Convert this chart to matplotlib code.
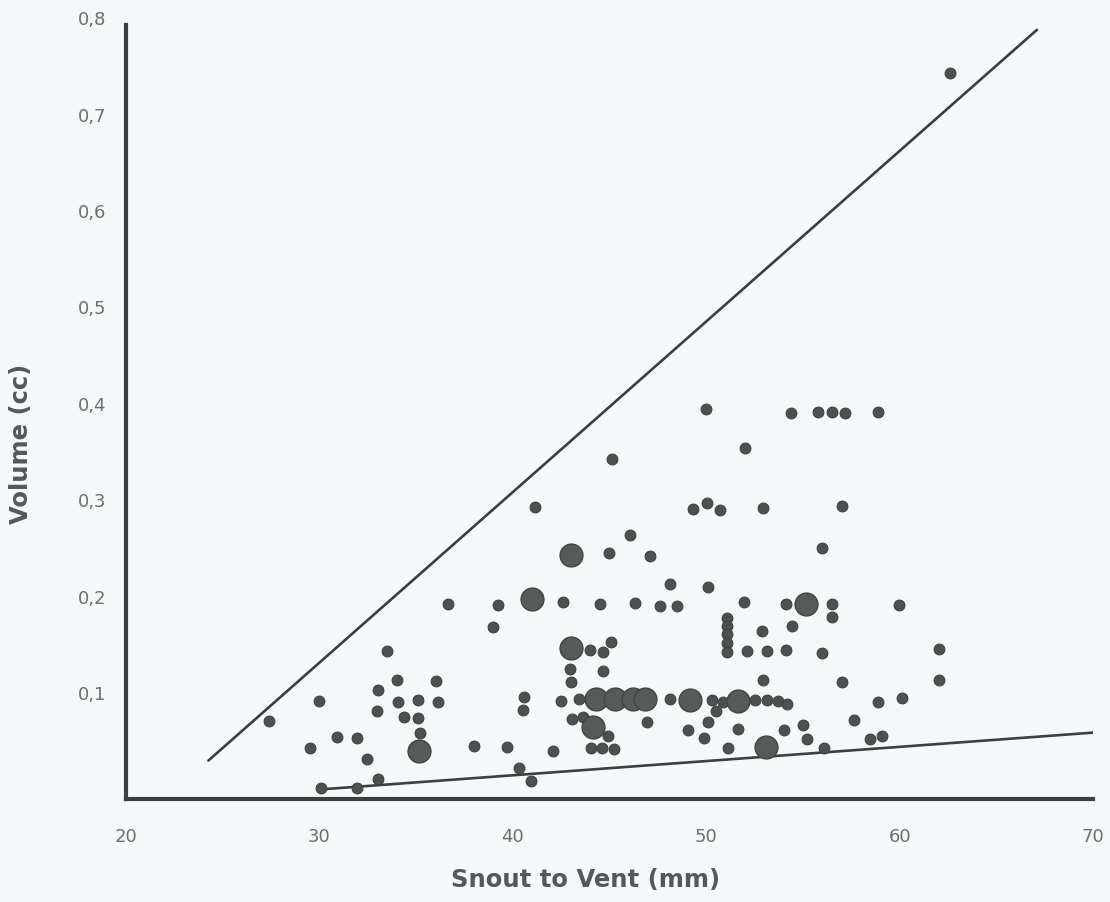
import matplotlib
matplotlib.use("Agg")
import matplotlib.pyplot as plt
from matplotlib.ticker import FuncFormatter

# snout-vent length (mm) and volume (cc), single specimens
svl = [27.39, 29.51, 29.98, 30.08, 30.89, 31.97, 31.97, 32.46, 33.03, 33.01,
       33.00, 33.48, 34.01, 34.04, 34.37, 35.11, 35.10, 35.20, 36.05, 36.12,
       36.63, 37.97, 38.98, 39.26, 39.70, 40.34, 40.94, 40.56, 40.55, 41.16,
       42.06, 42.47, 42.58, 42.98, 43.01, 43.04, 43.42, 43.63, 43.99, 44.02,
       44.51, 44.61, 44.68, 44.68, 44.90, 44.99, 45.11, 45.10, 45.23, 46.06,
       46.34, 46.94, 47.11, 47.61, 48.13, 48.13, 48.47, 49.08, 49.33, 49.89,
       49.99, 50.02, 50.09, 50.11, 50.28, 50.51, 50.71, 50.88, 51.08, 51.08,
       51.08, 51.08, 51.08, 51.14, 51.64, 51.93, 52.01, 52.12, 52.52, 52.90,
       52.95, 52.95, 53.13, 53.16, 53.70, 54.02, 54.11, 54.13, 54.19, 54.38,
       54.45, 55.02, 55.21, 55.77, 55.97, 56.00, 56.07, 56.49, 56.52, 56.52,
       57.00, 57.01, 57.18, 57.64, 58.45, 58.88, 58.87, 59.10, 59.97, 60.12,
       62.04, 62.05, 62.61]
volume = [0.071, 0.043, 0.092, 0.002, 0.054, 0.053, 0.002, 0.032, 0.011, 0.103,
          0.081, 0.144, 0.114, 0.091, 0.075, 0.093, 0.074, 0.059, 0.113, 0.091,
          0.192, 0.045, 0.169, 0.191, 0.044, 0.022, 0.009, 0.096, 0.082, 0.293,
          0.040, 0.092, 0.194, 0.125, 0.112, 0.073, 0.094, 0.075, 0.145, 0.043,
          0.192, 0.043, 0.143, 0.123, 0.055, 0.245, 0.343, 0.153, 0.042, 0.264,
          0.193, 0.070, 0.242, 0.190, 0.213, 0.094, 0.190, 0.062, 0.291, 0.053,
          0.395, 0.297, 0.210, 0.070, 0.093, 0.081, 0.290, 0.091, 0.178, 0.170,
          0.161, 0.152, 0.143, 0.043, 0.063, 0.194, 0.354, 0.144, 0.093, 0.164,
          0.292, 0.114, 0.093, 0.144, 0.092, 0.062, 0.145, 0.192, 0.089, 0.391,
          0.170, 0.067, 0.052, 0.392, 0.251, 0.142, 0.043, 0.392, 0.192, 0.179,
          0.112, 0.294, 0.391, 0.072, 0.052, 0.091, 0.392, 0.056, 0.191, 0.095,
          0.146, 0.114, 0.743]

# points where several specimens coincide (drawn larger)
svl_multi = [35.15, 41.01, 43.01, 42.99, 44.30, 45.28, 46.19, 46.86, 44.16,
             49.14, 51.66, 53.07, 55.14]
volume_multi = [0.040, 0.198, 0.243, 0.147, 0.094, 0.094, 0.094, 0.094, 0.065,
                0.093, 0.092, 0.044, 0.192]

# bounding lines
upper_x = [24.26, 67.1]
upper_y = [0.030, 0.788]
lower_x = [30.0, 70.0]
lower_y = [0.0, 0.059]

bg = "#f5f8f9"
ink = "#3c3f3f"
dot = "#4c5050"

fig = plt.figure(figsize=(11.1, 9.02), dpi=100, facecolor=bg)
ax = fig.add_axes([0.11351, 0.11419, 0.87117, 0.86662], facecolor=bg)

ax.plot(upper_x, upper_y, color=ink, lw=1.9, solid_capstyle="round")
ax.plot(lower_x, lower_y, color=ink, lw=1.9, solid_capstyle="round")
ax.scatter(svl, volume, s=60, color=dot, edgecolors="#3e4241", linewidths=0.8, zorder=3)
ax.scatter(svl_multi, volume_multi, s=270, color="#565b5a", edgecolors="#404443",
           linewidths=1.0, zorder=3)

ax.set_xlim(20, 70)
ax.set_ylim(-0.00985, 0.801)

for side in ("top", "right"):
    ax.spines[side].set_visible(False)
for side in ("left", "bottom"):
    ax.spines[side].set_color(ink)
    ax.spines[side].set_linewidth(3)
ax.spines["left"].set_bounds(-0.00985, 0.793)

ax.set_xticks([20, 30, 40, 50, 60, 70])
ax.set_yticks([0.1, 0.2, 0.3, 0.4, 0.5, 0.6, 0.7, 0.8])
ax.yaxis.set_major_formatter(FuncFormatter(lambda v, p: f"{v:.1f}".replace(".", ",")))
ax.tick_params(axis="both", length=0, labelsize=13, labelcolor="#6d6f6f")
ax.tick_params(axis="y", pad=14)
ax.tick_params(axis="x", pad=21)

ax.set_xlabel("Snout to Vent (mm)", fontsize=17.5, fontweight="bold", color="#555858")
ax.set_ylabel("Volume (cc)", fontsize=17.5, fontweight="bold", color="#555858")
ax.xaxis.set_label_coords(0.475, -0.104)
ax.xaxis.label.set_va("center")
ax.yaxis.set_label_coords(-0.1086, 0.4545)
ax.yaxis.label.set_va("center")

fig.savefig("out.png", dpi=100, facecolor=bg)
